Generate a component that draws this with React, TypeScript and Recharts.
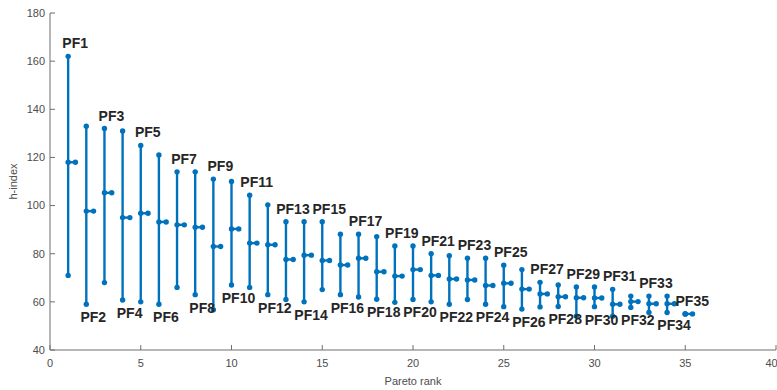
import { ScatterChart, Scatter, XAxis, YAxis } from "recharts"

const COLOR = "#0072BD"
const AXIS = "#6f6f6f"
const FONT = "'Liberation Sans', Arial, Helvetica, sans-serif"

// Pareto front rank, one entry per front
const ranks = [
  1, 2, 3, 4, 5, 6, 7, 8, 9, 10, 11, 12, 13, 14, 15, 16, 17, 18,
  19, 20, 21, 22, 23, 24, 25, 26, 27, 28, 29, 30, 31, 32, 33, 34, 35,
]
const names = ranks.map((r) => `PF${r}`)

// h-index range per front
const maxH = [
  162, 133, 132, 131, 125, 121, 114, 114, 111, 110, 104.3, 100.3, 93.3, 93.3, 93.3,
  88.1, 88.1, 87.1, 83.2, 83.2, 80, 79.2, 78.1, 78.1, 75.2, 73.4, 68.1, 67, 66.2,
  66.2, 65.2, 62.4, 62.4, 62.4, 55,
]
const medH = [
  118, 97.7, 105.3, 95, 96.8, 93.2, 92, 91, 83, 90.3, 84.4, 83.7, 77.6, 79.4, 77.2,
  75.3, 78.1, 72.5, 70.7, 73.4, 71, 69.5, 69.1, 66.8, 67.7, 65.3, 63.3, 62.1, 61.7,
  61.6, 59, 60.1, 59.2, 59.2, 55,
]
const minH = [
  71, 59, 68, 60.8, 60, 59, 66, 63, 56.7, 67, 66, 63, 61, 60, 65.1, 63, 62, 61.1, 59.8,
  61, 60, 59, 61, 59, 58, 57, 57.9, 58.1, 54, 58, 54, 57.7, 55.6, 55.6, 55,
]

const xTicks = [0, 5, 10, 15, 20, 25, 30, 35, 40]
const yTicks = [40, 60, 80, 100, 120, 140, 160, 180]
const MEDIAN_LEN = 0.4

const Dot = (p: any) => <circle cx={p.cx} cy={p.cy} r={2.7} fill={COLOR} />

const labelShape = (above: boolean) => (p: any) => (
  <text
    x={p.cx + 7}
    y={above ? p.cy - 8 : p.cy + 18}
    textAnchor="middle"
    fontFamily={FONT}
    fontWeight="bold"
    fontSize={14}
    fill="#262626"
  >
    {p.payload.name}
  </text>
)

const XTitle = (props: any) => {
  const vb = props.viewBox
  return (
    <text x={vb.x + vb.width / 2} y={vb.y + 35} textAnchor="middle" fontFamily={FONT} fontSize={11} fill="#4d4d4d">
      Pareto rank
    </text>
  )
}

const YTitle = (props: any) => {
  const vb = props.viewBox
  const cx = vb.x + 17
  const cy = vb.y + vb.height / 2
  return (
    <text x={cx} y={cy} transform={`rotate(-90 ${cx} ${cy})`} textAnchor="middle" fontFamily={FONT} fontSize={11} fill="#4d4d4d">
      h-index
    </text>
  )
}

export default function App() {
  const tickStyle = { fontFamily: FONT, fontSize: 11, fill: "#4d4d4d" }
  const topLabels = ranks
    .map((r, i) => ({ x: r, y: maxH[i], name: names[i] }))
    .filter((_, i) => i % 2 === 0)
  const bottomLabels = ranks
    .map((r, i) => ({ x: r, y: minH[i], name: names[i] }))
    .filter((_, i) => i % 2 === 1)

  return (
    <div style={{ position: "absolute", left: 0, top: 0 }}>
      <ScatterChart width={777} height={390} margin={{ top: 13, right: 1, bottom: 0, left: 0 }}>
        <XAxis
          type="number"
          dataKey="x"
          domain={[0, 40]}
          ticks={xTicks}
          allowDataOverflow
          height={40}
          stroke={AXIS}
          tickSize={-5}
          tickMargin={14}
          tick={tickStyle}
          label={{ content: XTitle }}
        />
        <XAxis
          xAxisId="top"
          type="number"
          orientation="top"
          domain={[0, 40]}
          ticks={xTicks}
          height={0}
          stroke={AXIS}
          tickSize={-5}
          tickFormatter={() => ""}
        />
        <YAxis
          type="number"
          dataKey="y"
          domain={[40, 180]}
          ticks={yTicks}
          allowDataOverflow
          width={50}
          stroke={AXIS}
          tickSize={-5}
          tickMargin={10}
          tick={tickStyle}
          label={{ content: YTitle }}
        />
        <YAxis
          yAxisId="right"
          type="number"
          orientation="right"
          domain={[40, 180]}
          ticks={yTicks}
          width={0}
          stroke={AXIS}
          tickSize={-5}
          tickFormatter={() => ""}
        />
        {ranks.map((r, i) => (
          <Scatter
            key={`range-${r}`}
            data={[
              { x: r, y: minH[i] },
              { x: r, y: maxH[i] },
            ]}
            fill={COLOR}
            line={{ stroke: COLOR, strokeWidth: 2.4 }}
            shape={Dot}
            isAnimationActive={false}
          />
        ))}
        {ranks.map((r, i) => (
          <Scatter
            key={`median-${r}`}
            data={[
              { x: r, y: medH[i] },
              { x: r + MEDIAN_LEN, y: medH[i] },
            ]}
            fill={COLOR}
            line={{ stroke: COLOR, strokeWidth: 2.4 }}
            shape={Dot}
            isAnimationActive={false}
          />
        ))}
        <Scatter data={topLabels} shape={labelShape(true)} isAnimationActive={false} />
        <Scatter data={bottomLabels} shape={labelShape(false)} isAnimationActive={false} />
      </ScatterChart>
    </div>
  )
}
